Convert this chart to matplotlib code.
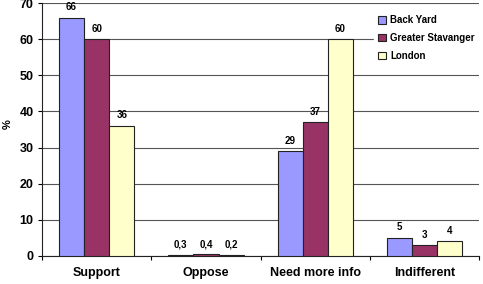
import matplotlib
matplotlib.use("Agg")
import matplotlib.pyplot as plt
import numpy as np

categories = ["Support", "Oppose", "Need more info", "Indifferent"]
series_names = ["Back Yard", "Greater Stavanger", "London"]
back_yard = [66, 0.3, 29, 5]
greater_stavanger = [60, 0.4, 37, 3]
london = [36, 0.2, 60, 4]
labels_by = ["66", "0,3", "29", "5"]
labels_gs = ["60", "0,4", "37", "3"]
labels_lo = ["36", "0,2", "60", "4"]
colors = ["#9999FF", "#993366", "#FFFFCC"]

plt.rcParams['font.family'] = ['Liberation Sans', 'DejaVu Sans']
fig = plt.figure(figsize=(4.83, 2.84), dpi=100)
ax = fig.add_axes([0.087, 0.099, 0.905, 0.89])

x = np.arange(len(categories))
w = 0.23
data = [back_yard, greater_stavanger, london]
labs = [labels_by, labels_gs, labels_lo]
for i, (vals, lab, c, name) in enumerate(zip(data, labs, colors, series_names)):
    pos = x + (i - 1) * w
    ax.bar(pos, vals, width=w, color=c, edgecolor="#222222", linewidth=0.8, label=name, zorder=3)
    for p, v, t in zip(pos, vals, lab):
        ax.text(p, v + 1.5, t, ha="center", va="bottom", fontsize=7, fontweight="bold", zorder=4)

ax.set_ylim(0, 70)
ax.set_xlim(-0.5, 3.5)
ax.set_yticks(range(0, 71, 10))
ax.yaxis.grid(True, color="#555555", linewidth=0.8, zorder=0)
ax.set_axisbelow(True)
ax.set_xticks(x)
ax.set_xticklabels(categories, fontsize=9, fontweight="bold")
ax.tick_params(axis="x", length=0, pad=8)
ax.set_xticks(np.arange(-0.5, 4.0, 1.0), minor=True)
ax.tick_params(axis="x", which="minor", length=3, width=0.8, direction="out")
ax.tick_params(axis="y", labelsize=9, length=3, width=0.8, pad=3)
for t in ax.get_yticklabels():
    t.set_fontweight("bold")
for s in ["top", "right"]:
    ax.spines[s].set_visible(False)
ax.spines["left"].set_color("#222222")
ax.spines["bottom"].set_color("#222222")
ax.set_ylabel("%", fontsize=8, fontweight="bold")
ax.yaxis.set_label_coords(-0.068, 0.52)

leg = ax.legend(loc="upper right", bbox_to_anchor=(1.012, 0.99), fontsize=7, frameon=True,
                framealpha=1, edgecolor="white", fancybox=False, handlelength=0.8, handleheight=0.8,
                labelspacing=0.8, borderpad=0.5, handletextpad=0.4)
for t in leg.get_texts():
    t.set_fontweight("bold")

fig.savefig("out.png", dpi=100)
